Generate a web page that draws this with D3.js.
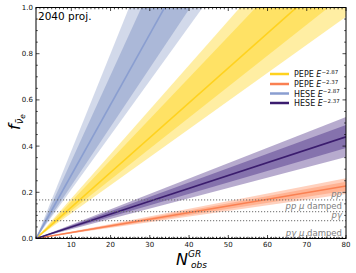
<!DOCTYPE html>
<html><head><meta charset="utf-8">
<script src="https://cdn.jsdelivr.net/npm/d3@7"></script>
<style>body{margin:0;background:#fff}svg{display:block;font-family:"DejaVu Sans",sans-serif}</style>
</head><body><svg id="c" width="356" height="273"></svg>
<script>
// Observed counts at wedge endpoints
const nObs = [1, 80];
// f values at N=80 for each series: [2σ low, 1σ low, centre, 1σ high, 2σ high]
const seriesNames = ["PEPE E^-2.87", "PEPE E^-2.37", "HESE E^-2.87", "HESE E^-2.37"];
const pepe287 = [0.96, 1.06, 1.19, 1.41, 1.52];
const pepe237 = [0.193, 0.207, 0.227, 0.246, 0.261];
const hese287 = [1.86, 2.01, 2.41, 2.94, 3.33];
const hese237 = [0.353, 0.392, 0.44, 0.491, 0.526];
// Source flavour-composition reference lines
const refNames = ["pp", "pp μ damped", "pγ", "pγ μ damped"];
const refValues = [0.167, 0.116, 0.077, 0.004];
const xTicks = [10, 20, 30, 40, 50, 60, 70, 80];
const yTicks = [0.0, 0.2, 0.4, 0.6, 0.8, 1.0];

const svg = d3.select("#c");
const L = 36, R = 346, T = 7.5, B = 238.5;
const x = d3.scaleLinear().domain([1, 80]).range([L, R]);
const y = d3.scaleLinear().domain([0, 1]).range([B, T]);

const styles = [
  {vals: pepe287, base: "#FFD000", a1: 0.36, a2: 0.38, line: "#FFD21F"},
  {vals: pepe237, base: "#FF7A45", a1: 0.35, a2: 0.35, line: "#FA8052"},
  {vals: hese287, base: "#6980B9", a1: 0.3, a2: 0.37, line: "#8A9ED0"},
  {vals: hese237, base: "#4A2C84", a1: 0.4, a2: 0.45, line: "#3B1C6E"}
];

svg.append("clipPath").attr("id", "clip").append("rect")
  .attr("x", L).attr("y", T).attr("width", R - L).attr("height", B - T);
const g = svg.append("g").attr("clip-path", "url(#clip)");

function wedge(lo, hi) {
  return [[x(nObs[0]), y(0)], [x(nObs[1]), y(lo)], [x(nObs[1]), y(hi)]];
}
const poly = d3.line();
styles.forEach(s => {
  g.append("path").attr("d", poly(wedge(s.vals[0], s.vals[4])) + "Z")
    .attr("fill", s.base).attr("fill-opacity", s.a1);
  g.append("path").attr("d", poly(wedge(s.vals[1], s.vals[3])) + "Z")
    .attr("fill", s.base).attr("fill-opacity", s.a2);
});
styles.forEach(s => {
  g.append("line").attr("x1", x(nObs[0])).attr("y1", y(0))
    .attr("x2", x(nObs[1])).attr("y2", y(s.vals[2]))
    .attr("stroke", s.line).attr("stroke-width", 1.6);
});

// reference lines
refValues.forEach((v, i) => {
  g.append("line").attr("x1", L).attr("x2", R).attr("y1", y(v)).attr("y2", y(v))
    .attr("stroke", "#6a6a6a").attr("stroke-width", 1).attr("stroke-dasharray", "1.2,1.8");
});
const labY = [196.5, 208.5, 217.5, 235.5];
refNames.forEach((n, i) => {
  const t = svg.append("text").attr("x", 342).attr("y", labY[i]).attr("text-anchor", "end")
    .attr("font-size", 8.5).attr("fill", "#808080");
  if (n.includes("damped")) {
    t.append("tspan").attr("font-style", "italic").text(n.replace(" damped", ""));
    t.append("tspan").text(" damped");
  } else {
    t.append("tspan").attr("font-style", "italic").text(n);
  }
});

// axes
const axG = svg.append("g");
axG.append("rect").attr("x", L).attr("y", T).attr("width", R - L).attr("height", B - T)
  .attr("fill", "none").attr("stroke", "#000").attr("stroke-width", 1);
const xMinor = d3.range(1, 81, 1);
const yMinor = d3.range(0, 1.0001, 0.05);
xMinor.forEach(v => {
  const maj = v % 10 === 0;
  const len = maj ? 3.5 : 1.8;
  axG.append("line").attr("x1", x(v)).attr("x2", x(v)).attr("y1", B).attr("y2", B - len).attr("stroke", "#000").attr("stroke-width", 0.7);
  axG.append("line").attr("x1", x(v)).attr("x2", x(v)).attr("y1", T).attr("y2", T + len).attr("stroke", "#000").attr("stroke-width", 0.7);
});
yMinor.forEach(v => {
  const maj = Math.abs(v * 5 - Math.round(v * 5)) < 1e-6;
  const len = maj ? 3.5 : 1.8;
  axG.append("line").attr("y1", y(v)).attr("y2", y(v)).attr("x1", L).attr("x2", L + len).attr("stroke", "#000").attr("stroke-width", 0.7);
  axG.append("line").attr("y1", y(v)).attr("y2", y(v)).attr("x1", R).attr("x2", R - len).attr("stroke", "#000").attr("stroke-width", 0.7);
});
xTicks.forEach(v => {
  axG.append("text").attr("x", x(v)).attr("y", 247).attr("text-anchor", "middle")
    .attr("font-size", 7).attr("fill", "#111").text(v);
});
yTicks.forEach(v => {
  axG.append("text").attr("x", L - 3).attr("y", y(v) + 2.5).attr("text-anchor", "end")
    .attr("font-size", 7).attr("fill", "#111").text(v.toFixed(1));
});

// axis labels
const yl = svg.append("text").attr("transform", "translate(20,122) rotate(-90)")
  .attr("text-anchor", "middle").attr("font-style", "italic").attr("fill", "#000");
yl.append("tspan").attr("font-size", 16).text("f");
yl.append("tspan").attr("font-size", 10).attr("dy", 3).text("ν̄");
yl.append("tspan").attr("font-size", 7.5).attr("dy", 1.5).text("e");

const xl = svg.append("text").attr("x", 176).attr("y", 265).attr("font-style", "italic").attr("fill", "#000");
xl.append("tspan").attr("font-size", 16).text("N");
xl.append("tspan").attr("font-size", 9).attr("dy", -8).text("GR");
xl.append("tspan").attr("font-size", 9).attr("x", 191).attr("dy", 11).text("obs");

svg.append("text").attr("x", 38).attr("y", 20).attr("font-size", 10.5).attr("fill", "#000").text("2040 proj.");

// legend
const legY = [74, 84, 93.5, 103];
const legExp = ["−2.87", "−2.37", "−2.87", "−2.37"];
const legPre = ["PEPE", "PEPE", "HESE", "HESE"];
styles.forEach((s, i) => {
  svg.append("line").attr("x1", 270).attr("x2", 289).attr("y1", legY[i]).attr("y2", legY[i])
    .attr("stroke", s.line).attr("stroke-width", 2.5);
  const t = svg.append("text").attr("x", 294).attr("y", legY[i] + 3).attr("font-size", 8).attr("fill", "#111");
  t.append("tspan").text(legPre[i] + " ");
  t.append("tspan").attr("font-style", "italic").text("E");
  t.append("tspan").attr("font-size", 5.5).attr("dy", -3.5).text(legExp[i]);
});
</script></body></html>
